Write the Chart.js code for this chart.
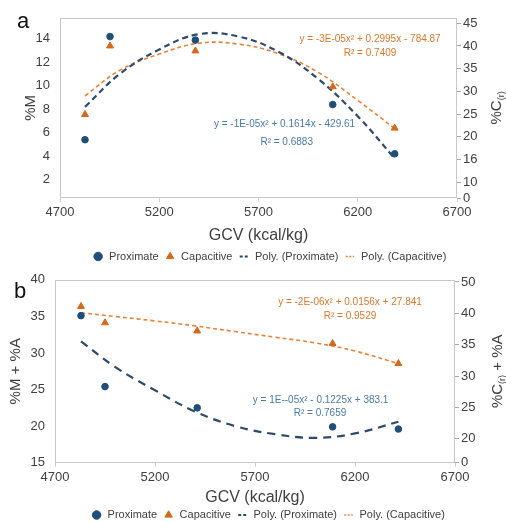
<!DOCTYPE html>
<html>
<head>
<meta charset="utf-8">
<script src="https://cdn.jsdelivr.net/npm/chart.js@4.4.1/dist/chart.umd.min.js"></script>
<style>
  html, body { margin: 0; padding: 0; background: #fff; }
  #wrap { position: relative; width: 506px; height: 522px; }
  .panel { position: absolute; left: 0; }
  #panelA { top: 0; }
  #panelB { top: 262px; }
</style>
</head>
<body>
<div id="wrap">
  <div class="panel" id="panelA"><canvas id="chartA" width="506" height="262"></canvas></div>
  <div class="panel" id="panelB"><canvas id="chartB" width="506" height="260"></canvas></div>
</div>
<script>
'use strict';

// panel a : moisture
const gcvA = [4826, 4952, 5382, 6074, 6386];
const proxA = [5.4, 14.2, 13.9, 8.4, 4.2];
const capA = [24.9, 40.0, 38.9, 31.0, 21.9];
const fitGcvA = [4826, 5000, 5200, 5400, 5600, 5800, 6000, 6200, 6386];
const fitProxA = [8.2, 11.0, 13.1, 14.4, 14.2, 12.9, 10.6, 7.4, 3.8];
const fitCapA = [29.0, 34.6, 38.2, 40.6, 40.4, 38.3, 34.2, 28.0, 21.8];

// panel b : moisture + ash
const gcvB = [4830, 4950, 5411, 6088, 6417];
const proxB = [35.1, 25.4, 22.5, 19.9, 19.6];
const capB = [41.1, 38.5, 37.2, 35.2, 32.0];
const fitGcvB = [4830, 5000, 5200, 5400, 5600, 5800, 6000, 6200, 6417];
const fitProxB = [31.6, 28.1, 24.9, 22.0, 20.0, 18.9, 18.4, 19.0, 20.6];
const fitCapB = [40.1, 39.5, 38.8, 38.0, 37.1, 36.2, 35.3, 34.0, 32.0];

// ticks
const xTicks = [4700, 5200, 5700, 6200, 6700];
const leftTicksA = [2, 4, 6, 8, 10, 12, 14];
const rightTickValsA = [6.5, 10, 15, 20, 25, 30, 35, 40, 45];
const rightTickLabelsA = ['0', '10', '16', '20', '25', '30', '35', '40', '45'];
const leftTicksB = [15, 20, 25, 30, 35, 40];
const rightTickValsB = [16.2, 20, 25, 30, 35, 40, 45];
const rightTickLabelsB = ['0', '20', '25', '30', '35', '40', '50'];

const seriesNames = ['Proximate', 'Capacitive', 'Poly. (Proximate)', 'Poly. (Capacitive)'];
const eqTextA = ['y = -3E-05x² + 0.2995x - 784.87', 'R² = 0.7409', 'y = -1E-05x² + 0.1614x - 429.61', 'R² = 0.6883'];
const eqTextB = ['y = -2E-06x² + 0.0156x + 27.841', 'R² = 0.9529', 'y = 1E--05x² - 0.1225x + 383.1', 'R² = 0.7659'];

const FONT = '"Liberation Sans", Arial, sans-serif';
const navy = '#1f4e79';
const orange = '#d2691e';
const blueLine = '#2e4a6b';
const orangeLine = '#e8823a';
const blueText = '#4a7ba6';
const orangeText = '#d9782d';

Chart.defaults.font.family = FONT;
Chart.defaults.color = '#404040';

//helper functions
function pts(xs, ys) {
  return xs.map(function (x, i) { return { x: x, y: ys[i] }; });
}

function fixedTicks(vals) {
  return function (scale) {
    scale.ticks = vals.map(function (v) { return { value: v }; });
  };
}

const framePlugin = {
  id: 'frame',
  beforeDatasetsDraw(chart) {
    const a = chart.chartArea;
    const ctx = chart.ctx;
    ctx.save();
    ctx.strokeStyle = '#c8c8c8';
    ctx.lineWidth = 1;
    ctx.strokeRect(Math.round(a.left) + 0.5, Math.round(a.top) + 0.5,
      Math.round(a.right - a.left) - 1, Math.round(a.bottom - a.top) - 1);
    ctx.restore();
  }
};

const notesPlugin = {
  id: 'notes',
  afterDatasetsDraw(chart, args, opts) {
    const ctx = chart.ctx;
    ctx.save();
    ctx.textAlign = 'center';
    ctx.textBaseline = 'middle';
    ctx.font = '10px ' + FONT;
    opts.items.forEach(function (n) {
      ctx.fillStyle = n.color;
      ctx.fillText(n.text, chart.scales.x.getPixelForValue(n.x), chart.scales[n.axis].getPixelForValue(n.y));
    });

    // panel letter
    ctx.font = '22px ' + FONT;
    ctx.fillStyle = '#111';
    ctx.fillText(opts.letter, opts.letterX, opts.letterY);

    // right axis title, reads bottom to top like the left one
    const a = chart.chartArea;
    ctx.translate(chart.width - opts.titleInset, (a.top + a.bottom) / 2);
    ctx.rotate(-Math.PI / 2);
    ctx.fillStyle = '#404040';
    ctx.textAlign = 'left';
    let total = 0;
    opts.title.forEach(function (p) {
      ctx.font = p.size + 'px ' + FONT;
      p.w = ctx.measureText(p.t).width;
      total += p.w;
    });
    let cx = -total / 2;
    opts.title.forEach(function (p) {
      ctx.font = p.size + 'px ' + FONT;
      ctx.fillText(p.t, cx, p.dy);
      cx += p.w;
    });
    ctx.restore();
  }
};

function legendLabels(chart) {
  const items = Chart.defaults.plugins.legend.labels.generateLabels(chart);
  items.forEach(function (item) {
    const ds = chart.data.datasets[item.datasetIndex];
    if (ds.showLine) {
      item.lineDash = ds.legendDash;
      item.lineWidth = ds.borderWidth;
      item.strokeStyle = ds.borderColor;
    }
  });
  return items;
}

function makeChart(id, p) {
  const ctx = document.getElementById(id).getContext('2d');
  return new Chart(ctx, {
    type: 'scatter',
    data: {
      datasets: [{
        label: seriesNames[0],
        data: pts(p.gcv, p.prox),
        yAxisID: 'y',
        pointStyle: 'circle',
        pointRadius: 3.3,
        backgroundColor: navy,
        borderColor: navy
      },
      {
        label: seriesNames[1],
        data: pts(p.gcv, p.cap),
        yAxisID: 'y1',
        pointStyle: 'triangle',
        pointRadius: 4,
        backgroundColor: orange,
        borderColor: orange
      },
      {
        label: seriesNames[2],
        data: pts(p.fitGcv, p.fitProx),
        yAxisID: 'y',
        showLine: true,
        tension: 0.4,
        pointRadius: 0,
        pointStyle: 'line',
        borderColor: blueLine,
        pointBorderColor: blueLine,
        backgroundColor: blueLine,
        borderWidth: 2.2,
        borderDash: p.blueDash,
        legendDash: [3, 2]
      },
      {
        label: seriesNames[3],
        data: pts(p.fitGcv, p.fitCap),
        yAxisID: 'y1',
        showLine: true,
        tension: 0.4,
        pointRadius: 0,
        pointStyle: 'line',
        borderColor: orangeLine,
        pointBorderColor: orangeLine,
        backgroundColor: orangeLine,
        borderWidth: 1.6,
        borderDash: [4, 3],
        legendDash: [2, 1.5]
      }]
    },
    options: {
      responsive: false,
      animation: false,
      // left padding only nudges the legend to the right, the y axis width makes up for it
      layout: { autoPadding: false, padding: { top: p.padTop, bottom: p.padBottom, left: p.padLeft, right: 0 } },
      plugins: {
        tooltip: { enabled: false },
        legend: {
          position: 'bottom',
          labels: {
            usePointStyle: true,
            boxHeight: 6,
            padding: 6,
            color: '#404040',
            font: { size: 11 },
            generateLabels: legendLabels
          }
        },
        notes: p.notes
      },
      scales: {
        x: {
          type: 'linear',
          min: 4700,
          max: 6700,
          afterBuildTicks: fixedTicks(xTicks),
          afterFit: function (scale) { scale.height = p.xHeight; },
          grid: { display: true, drawOnChartArea: false, drawTicks: true, tickLength: 4, color: '#d0d0d0' },
          border: { display: false },
          ticks: { padding: 3, font: { size: 13 }, color: '#404040', callback: function (v) { return String(v); } },
          title: { display: true, text: 'GCV (kcal/kg)', font: { size: 16 }, color: '#404040', padding: { top: 0, bottom: p.xTitlePad } }
        },
        y: {
          position: 'left',
          min: p.leftMin,
          max: p.leftMax,
          afterBuildTicks: fixedTicks(p.leftTicks),
          afterFit: function (scale) { scale.width = p.leftWidth - p.padLeft; },
          grid: { display: false, drawTicks: false },
          border: { display: false },
          ticks: { padding: 10, font: { size: 13 }, color: '#404040' },
          title: { display: true, text: p.leftTitle, font: { size: 15 }, color: '#404040', padding: { top: p.leftTitleX - p.padLeft - 9, bottom: 0 } }
        },
        y1: {
          position: 'right',
          min: p.rightMin,
          max: p.rightMax,
          afterBuildTicks: fixedTicks(p.rightVals),
          afterFit: function (scale) { scale.width = p.rightWidth; },
          grid: { display: true, drawOnChartArea: false, drawTicks: true, tickLength: 4, color: '#a8a8a8' },
          border: { display: false },
          ticks: {
            padding: 2,
            font: { size: 13 },
            color: '#404040',
            callback: function (v, i) { return p.rightLabels[i]; }
          }
        }
      }
    },
    plugins: [framePlugin, notesPlugin]
  });
}

makeChart('chartA', {
  gcv: gcvA, prox: proxA, cap: capA,
  fitGcv: fitGcvA, fitProx: fitProxA, fitCap: fitCapA,
  blueDash: [6, 4],
  padTop: 15, padBottom: -10, padLeft: 33, xHeight: 47, xTitlePad: 0,
  leftMin: 0.43, leftMax: 15.8, leftTicks: leftTicksA, leftWidth: 60,
  leftTitle: '%M', leftTitleX: 31,
  rightMin: 6.5, rightMax: 46.2, rightVals: rightTickValsA, rightLabels: rightTickLabelsA, rightWidth: 49,
  notes: {
    letter: 'a', letterX: 23, letterY: 22, titleInset: 9,
    title: [{ t: '%C', size: 15, dy: 0 }, { t: '(r)', size: 9, dy: 5 }],
    items: [
      { text: eqTextA[0], x: 6262, y: 41.5, axis: 'y1', color: orangeText },
      { text: eqTextA[1], x: 6262, y: 38.4, axis: 'y1', color: orangeText },
      { text: eqTextA[2], x: 5831, y: 6.7, axis: 'y', color: blueText },
      { text: eqTextA[3], x: 5842, y: 5.22, axis: 'y', color: blueText }
    ]
  }
});

makeChart('chartB', {
  gcv: gcvB, prox: proxB, cap: capB,
  fitGcv: fitGcvB, fitProx: fitProxB, fitCap: fitCapB,
  blueDash: [8, 6],
  padTop: 10, padBottom: -8.5, padLeft: 30, xHeight: 40.8, xTitlePad: -4,
  leftMin: 15, leftMax: 40, leftTicks: leftTicksB, leftWidth: 55,
  leftTitle: '%M + %A', leftTitleX: 16,
  rightMin: 16.2, rightMax: 45.35, rightVals: rightTickValsB, rightLabels: rightTickLabelsB, rightWidth: 51,
  notes: {
    letter: 'b', letterX: 20, letterY: 30, titleInset: 8,
    title: [{ t: '%C', size: 15, dy: 0 }, { t: '(r)', size: 9, dy: 5 }, { t: ' + %A', size: 15, dy: 0 }],
    items: [
      { text: eqTextB[0], x: 6175, y: 41.7, axis: 'y1', color: orangeText },
      { text: eqTextB[1], x: 6175, y: 39.6, axis: 'y1', color: orangeText },
      { text: eqTextB[2], x: 6028, y: 23.5, axis: 'y', color: blueText },
      { text: eqTextB[3], x: 6025, y: 21.7, axis: 'y', color: blueText }
    ]
  }
});
</script>
</body>
</html>
